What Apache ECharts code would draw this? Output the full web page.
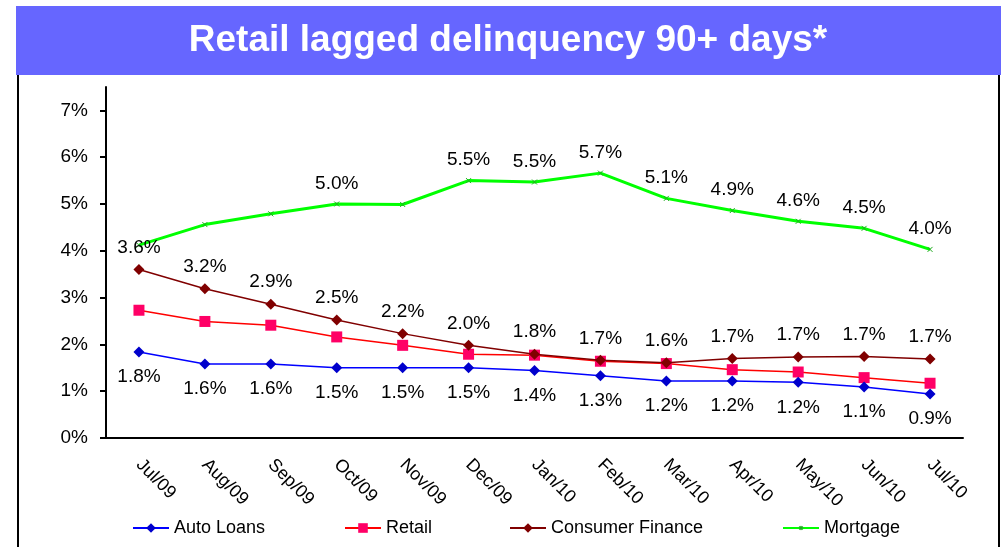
<!DOCTYPE html>
<html>
<head>
<meta charset="utf-8">
<script src="https://cdn.jsdelivr.net/npm/echarts@6/dist/echarts.min.js"></script>
<style>
  html, body { margin: 0; padding: 0; background: #fff; }
  #chart { width: 1001px; height: 547px; }
</style>
</head>
<body>
<div id="chart"></div>
<script>
// categories and values (percent)
var months = ['Jul/09', 'Aug/09', 'Sep/09', 'Oct/09', 'Nov/09', 'Dec/09', 'Jan/10',
              'Feb/10', 'Mar/10', 'Apr/10', 'May/10', 'Jun/10', 'Jul/10'];
var autoLoans = [1.84, 1.58, 1.58, 1.50, 1.50, 1.50, 1.44, 1.33, 1.22, 1.22, 1.19, 1.09, 0.94];
var retail = [2.73, 2.49, 2.41, 2.16, 1.98, 1.79, 1.77, 1.64, 1.59, 1.46, 1.41, 1.29, 1.17];
var consumerFinance = [3.60, 3.19, 2.86, 2.52, 2.23, 1.98, 1.79, 1.66, 1.61, 1.70, 1.73, 1.74, 1.69];
var mortgage = [4.12, 4.56, 4.79, 5.00, 4.99, 5.50, 5.47, 5.66, 5.12, 4.86, 4.63, 4.48, 4.03];
// which mortgage points carry a label in the original
var mortgageLabelShown = [false, false, false, true, false, true, true, true, true, true, true, true, true];
var yTicks = [0, 1, 2, 3, 4, 5, 6, 7];

var FONT = 'Liberation Sans, Arial, sans-serif';

var pct = function (p) {
    return p.value.toFixed(1) + '%';
};

var mortgageData = mortgage.map(function (v, i) {
    return { value: v, label: { show: mortgageLabelShown[i] } };
});

var legendBase = function (name, left, h) {
    return {
        data: [name],
        left: left,
        top: 514,
        itemWidth: 36,
        itemHeight: h || 12,
        itemGap: 5,
        textStyle: { fontFamily: FONT, fontSize: 18, color: '#000' }
    };
};

var chart = echarts.init(document.getElementById('chart'));
chart.setOption({
    animation: false,
    backgroundColor: '#fff',
    graphic: [
        { type: 'rect', shape: { x: 16, y: 6, width: 985, height: 69 }, style: { fill: '#6666ff' } },
        {
            type: 'text', x: 508, y: 41,
            style: {
                text: 'Retail lagged delinquency 90+ days*',
                fill: '#fff', font: 'bold 37px ' + FONT,
                textAlign: 'center', textVerticalAlign: 'middle'
            }
        },
        { type: 'line', shape: { x1: 18, y1: 75, x2: 18, y2: 547 }, style: { stroke: '#000', lineWidth: 2 } },
        { type: 'line', shape: { x1: 999, y1: 75, x2: 999, y2: 547 }, style: { stroke: '#000', lineWidth: 2 } }
    ],
    legend: [
        legendBase('Auto Loans', 127),
        legendBase('Retail', 339),
        legendBase('Consumer Finance', 504),
        legendBase('Mortgage', 777, 4)
    ],
    grid: { left: 106, right: 38, top: 87, bottom: 109 },
    xAxis: {
        type: 'category',
        data: months,
        axisLine: { lineStyle: { color: '#000', width: 2 } },
        axisTick: { length: 6, lineStyle: { color: '#000', width: 2 } },
        axisLabel: {
            rotate: -45, margin: 24, color: '#000',
            fontFamily: FONT, fontSize: 18
        }
    },
    yAxis: {
        type: 'value',
        min: 0, max: 7.5, interval: 1,
        splitLine: { show: false },
        axisLine: { show: true, lineStyle: { color: '#000', width: 2 } },
        axisTick: { show: true, length: 6, customValues: yTicks, lineStyle: { color: '#000', width: 2 } },
        axisLabel: {
            customValues: yTicks, formatter: '{value}%', margin: 18,
            color: '#000', fontFamily: FONT, fontSize: 19
        }
    },
    series: [
        {
            name: 'Auto Loans', type: 'line', data: autoLoans,
            symbol: 'diamond', symbolSize: 11,
            lineStyle: { color: '#0000ff', width: 1.5 },
            itemStyle: { color: '#0000cc' },
            label: { show: true, position: 'bottom', distance: 10, formatter: pct,
                     color: '#000', fontFamily: FONT, fontSize: 19 },
            z: 4
        },
        {
            name: 'Retail', type: 'line', data: retail,
            symbol: 'rect', symbolSize: 11,
            lineStyle: { color: '#ff0000', width: 1.5 },
            itemStyle: { color: '#ff0066' },
            z: 3
        },
        {
            name: 'Consumer Finance', type: 'line', data: consumerFinance,
            symbol: 'diamond', symbolSize: 11,
            lineStyle: { color: '#800000', width: 1.5 },
            itemStyle: { color: '#800000' },
            label: { show: true, position: 'top', distance: 7, formatter: pct,
                     color: '#000', fontFamily: FONT, fontSize: 19 },
            z: 5
        },
        {
            name: 'Mortgage', type: 'line', data: mortgageData,
            symbol: 'path://M0,0L10,10M10,0L0,10', symbolSize: 5,
            lineStyle: { color: '#00ff00', width: 3 },
            itemStyle: { color: '#00ff00', borderColor: '#22aa22', borderWidth: 1 },
            label: { show: true, position: 'top', distance: 8, formatter: pct,
                     color: '#000', fontFamily: FONT, fontSize: 19 },
            z: 2
        }
    ]
});
</script>
</body>
</html>
